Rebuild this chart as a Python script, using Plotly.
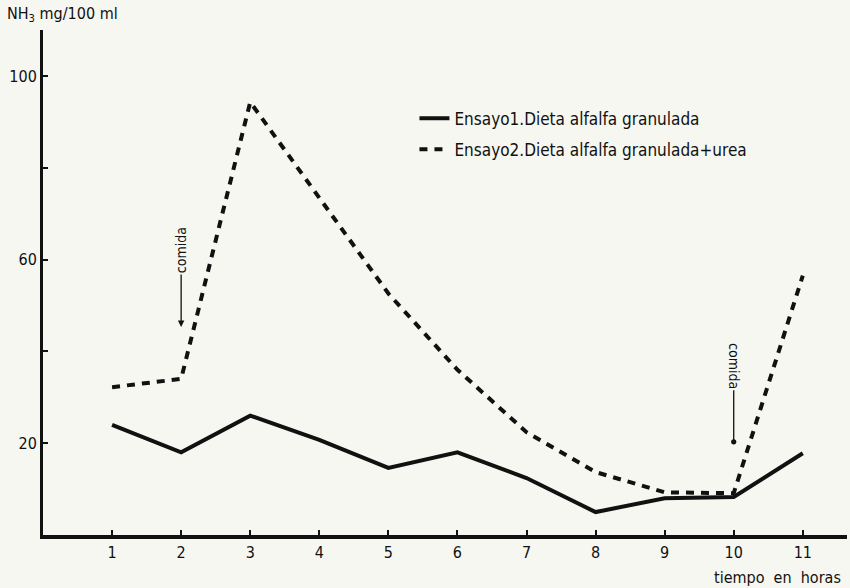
import plotly.graph_objects as go

hours = [1, 2, 3, 4, 5, 6, 7, 8, 9, 10, 11]
ensayo1 = [24, 18, 26, 20.7, 14.6, 18, 12.4, 5, 8, 8.3, 17.8]
ensayo2 = [32.2, 34, 94.3, 73.5, 52.6, 36, 22.4, 13.7, 9.3, 9.1, 56.5]
ytick_vals = [20, 40, 60, 80, 100]
ytick_text = ["20", "", "60", "", "100"]
name1 = "Ensayo1.Dieta alfalfa granulada"
name2 = "Ensayo2.Dieta alfalfa granulada+urea"

FONT = "DejaVu Sans Condensed"
INK = "#111111"

fig = go.Figure()
fig.add_trace(go.Scatter(x=hours, y=ensayo1, mode="lines", name=name1,
                         legendgroup="g1",
                         line=dict(color=INK, width=4)))
fig.add_trace(go.Scatter(x=hours, y=ensayo2, mode="lines", name=name2,
                         legendgroup="g2",
                         line=dict(color=INK, width=4, dash="8px,7px")))

fig.update_layout(
    width=850, height=588,
    margin=dict(l=43, r=3, t=30, b=53),
    paper_bgcolor="#f7f7f2", plot_bgcolor="#f7f7f2",
    font=dict(family=FONT, size=15, color=INK),
    showlegend=True,
    legend=dict(x=0.462, y=0.86, xanchor="left", yanchor="top",
                bgcolor="rgba(0,0,0,0)", font=dict(size=17, family=FONT),
                traceorder="grouped", tracegroupgap=6),
)
fig.update_xaxes(range=[0, 11.64], showgrid=False, zeroline=False,
                 showline=True, linewidth=4, linecolor=INK,
                 ticks="inside", ticklen=5, tickwidth=1.5, tickcolor=INK,
                 tickvals=hours, ticktext=[str(h) for h in hours],
                 tickfont=dict(size=16))
fig.update_yaxes(range=[0, 110], showgrid=False, zeroline=False,
                 showline=True, linewidth=3, linecolor=INK,
                 ticks="inside", ticklen=5, tickwidth=1.5, tickcolor=INK,
                 tickvals=ytick_vals, ticktext=ytick_text,
                 tickfont=dict(size=16))

annots = [
    dict(text="NH<sub>3</sub> mg/100 ml", xref="paper", yref="paper",
         x=-0.047, y=1.03, xanchor="left", yanchor="middle",
         showarrow=False, font=dict(size=16)),
    dict(text="tiempo  en  horas", xref="paper", yref="paper",
         x=0.832, y=-0.085, xanchor="left", yanchor="middle",
         showarrow=False, font=dict(size=16)),
    # comida 1
    dict(text="comida", x=2, y=45.3, xref="x", yref="y", showarrow=True,
         ax=0, ay=-77, textangle=-90, arrowhead=2, arrowsize=1,
         arrowwidth=1.3, arrowcolor=INK, font=dict(size=14)),
    # comida 2
    dict(text="comida", x=10, y=20.3, xref="x", yref="y", showarrow=True,
         ax=0, ay=-76, textangle=90, arrowhead=6, arrowsize=1,
         arrowwidth=1.3, arrowcolor=INK, font=dict(size=14)),
]
fig.update_layout(annotations=annots)

fig.write_html("out.html", config={"displayModeBar": False},
               post_script="document.body.style.margin='0';")
